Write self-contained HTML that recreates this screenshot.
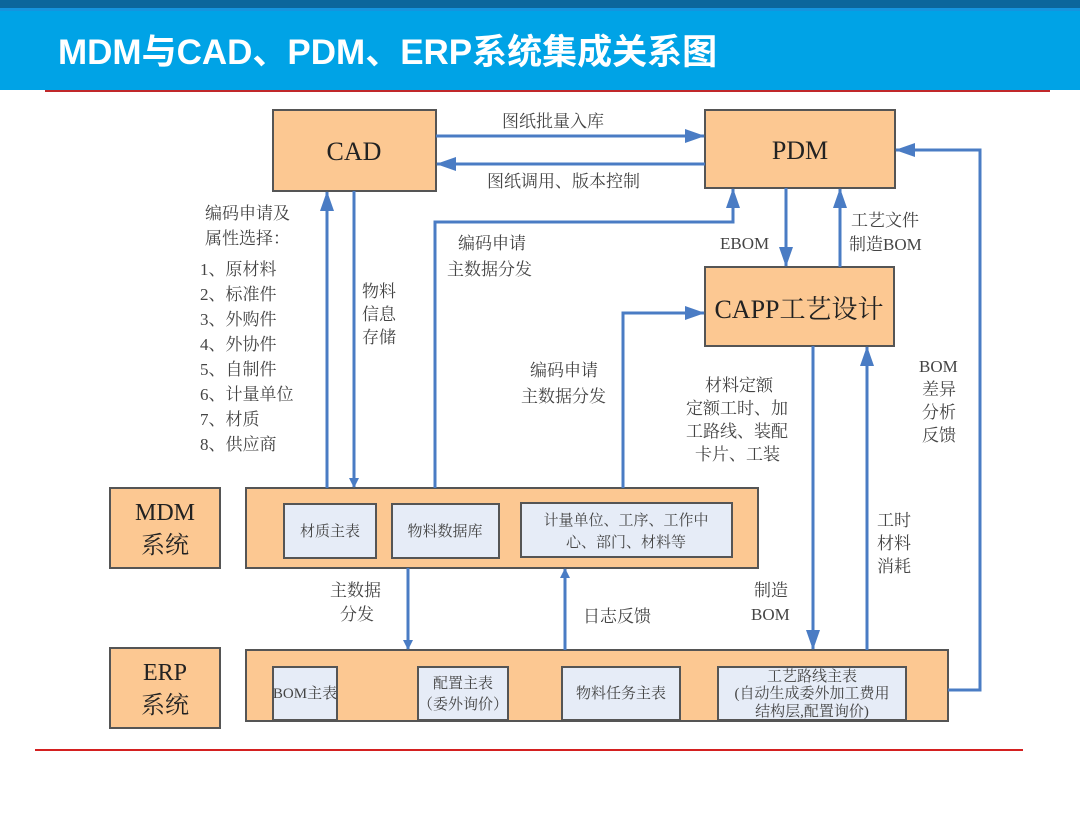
<!DOCTYPE html>
<html><head><meta charset="utf-8"><style>
body{margin:0;width:1080px;height:810px;overflow:hidden;background:#fff;font-family:"Liberation Serif","Noto Serif CJK SC",serif;}
svg text{font-family:"Liberation Serif","Noto Serif CJK SC",serif;fill:#444;}
</style></head><body>
<svg width="1080" height="810" viewBox="0 0 1080 810" xmlns="http://www.w3.org/2000/svg">
<defs><marker id="a" markerWidth="10" markerHeight="10" refX="9" refY="5" orient="auto" markerUnits="userSpaceOnUse"><path d="M0,0 L10,5 L0,10 z" fill="#4a7cc4"/></marker>
<marker id="b" markerWidth="20" markerHeight="14" refX="19" refY="7" orient="auto" markerUnits="userSpaceOnUse"><path d="M0,0 L20,7 L0,14 z" fill="#4a7cc4"/></marker></defs>
<rect x="0" y="0" width="1080" height="8" fill="#0b669c"/>
<rect x="0" y="8" width="1080" height="3" fill="#1594de"/>
<rect x="0" y="11" width="1080" height="79" fill="#00a3e6"/>
<text x="58" y="64" style="font-family:'Liberation Sans','Noto Sans CJK SC',sans-serif;font-weight:bold;font-size:35px;fill:#fff">MDM与CAD、PDM、ERP系统集成关系图</text>
<rect x="45" y="90" width="1005" height="2" fill="#c0282a"/>
<rect x="35" y="749" width="988" height="2" fill="#d42020"/>
<g fill="#fcc892" stroke="#555" stroke-width="2">
<rect x="273" y="110" width="163" height="81"/>
<rect x="705" y="110" width="190" height="78"/>
<rect x="705" y="267" width="189" height="79"/>
<rect x="110" y="488" width="110" height="80"/>
<rect x="246" y="488" width="512" height="80"/>
<rect x="110" y="648" width="110" height="80"/>
<rect x="246" y="650" width="702" height="71"/>
</g>
<g fill="#e6ecf7" stroke="#555" stroke-width="2">
<rect x="284" y="504" width="92" height="54"/>
<rect x="392" y="504" width="107" height="54"/>
<rect x="521" y="503" width="211" height="54"/>
<rect x="273" y="667" width="64" height="53"/>
<rect x="418" y="667" width="90" height="53"/>
<rect x="562" y="667" width="118" height="53"/>
<rect x="718" y="667" width="188" height="53"/>
</g>
<g stroke="#4a7cc4" stroke-width="3" fill="none">
<line x1="436" y1="136" x2="704" y2="136" marker-end="url(#b)"/>
<line x1="705" y1="164" x2="437" y2="164" marker-end="url(#b)"/>
<line x1="327" y1="488" x2="327" y2="192" marker-end="url(#b)"/>
<line x1="354" y1="191" x2="354" y2="487" marker-end="url(#a)"/>
<polyline points="435,488 435,222 733,222 733,189" marker-end="url(#b)"/>
<polyline points="623,488 623,313 704,313" marker-end="url(#b)"/>
<line x1="786" y1="188" x2="786" y2="266" marker-end="url(#b)"/>
<line x1="840" y1="267" x2="840" y2="189" marker-end="url(#b)"/>
<line x1="813" y1="346" x2="813" y2="649" marker-end="url(#b)"/>
<line x1="867" y1="650" x2="867" y2="347" marker-end="url(#b)"/>
<polyline points="948,690 980,690 980,150 896,150" marker-end="url(#b)"/>
<line x1="408" y1="568" x2="408" y2="649" marker-end="url(#a)"/>
<line x1="565" y1="650" x2="565" y2="569" marker-end="url(#a)"/>
</g>
<g style="font-size:26px;fill:#222" text-anchor="middle">
<text x="354" y="160" style="fill:#222">CAD</text>
<text x="800" y="159" style="fill:#222">PDM</text>
<text x="799" y="318" style="fill:#222">CAPP工艺设计</text>
<text x="165" y="520" style="fill:#222;font-size:24px">MDM</text>
<text x="165" y="553" style="fill:#222;font-size:24px">系统</text>
<text x="165" y="680" style="fill:#222;font-size:24px">ERP</text>
<text x="165" y="713" style="fill:#222;font-size:24px">系统</text>
</g>
<g style="font-size:15px" text-anchor="middle">
<text x="330" y="536">材质主表</text>
<text x="445" y="536">物料数据库</text>
<text x="626" y="525">计量单位、工序、工作中</text>
<text x="626" y="547">心、部门、材料等</text>
<text x="305" y="698">BOM主表</text>
<text x="463" y="688">配置主表</text>
<text x="463" y="709">（委外询价）</text>
<text x="621" y="698">物料任务主表</text>
<text x="812" y="681">工艺路线主表</text>
<text x="812" y="698">(自动生成委外加工费用</text>
<text x="812" y="716">结构层,配置询价)</text>
</g>
<g style="font-size:17px">
<text x="502" y="127">图纸批量入库</text>
<text x="487" y="187">图纸调用、版本控制</text>
<text x="205" y="219">编码申请及</text>
<text x="205" y="244">属性选择：</text>
<text x="200" y="275">1、原材料</text>
<text x="200" y="300">2、标准件</text>
<text x="200" y="325">3、外购件</text>
<text x="200" y="350">4、外协件</text>
<text x="200" y="375">5、自制件</text>
<text x="200" y="400">6、计量单位</text>
<text x="200" y="425">7、材质</text>
<text x="200" y="450">8、供应商</text>
<text x="362" y="297">物料</text>
<text x="362" y="320">信息</text>
<text x="362" y="343">存储</text>
<text x="458" y="249">编码申请</text>
<text x="447" y="275">主数据分发</text>
<text x="530" y="376">编码申请</text>
<text x="521" y="402">主数据分发</text>
<text x="720" y="249">EBOM</text>
<text x="851" y="226">工艺文件</text>
<text x="849" y="250">制造BOM</text>
<text x="705" y="391">材料定额</text>
<text x="686" y="414">定额工时、加</text>
<text x="686" y="437">工路线、装配</text>
<text x="695" y="460">卡片、工装</text>
<text x="919" y="372">BOM</text>
<text x="922" y="395">差异</text>
<text x="922" y="418">分析</text>
<text x="922" y="441">反馈</text>
<text x="877" y="526">工时</text>
<text x="877" y="549">材料</text>
<text x="877" y="572">消耗</text>
<text x="754" y="596">制造</text>
<text x="751" y="620">BOM</text>
<text x="330" y="596">主数据</text>
<text x="340" y="620">分发</text>
<text x="583" y="622">日志反馈</text>
</g>
</svg>
</body></html>
